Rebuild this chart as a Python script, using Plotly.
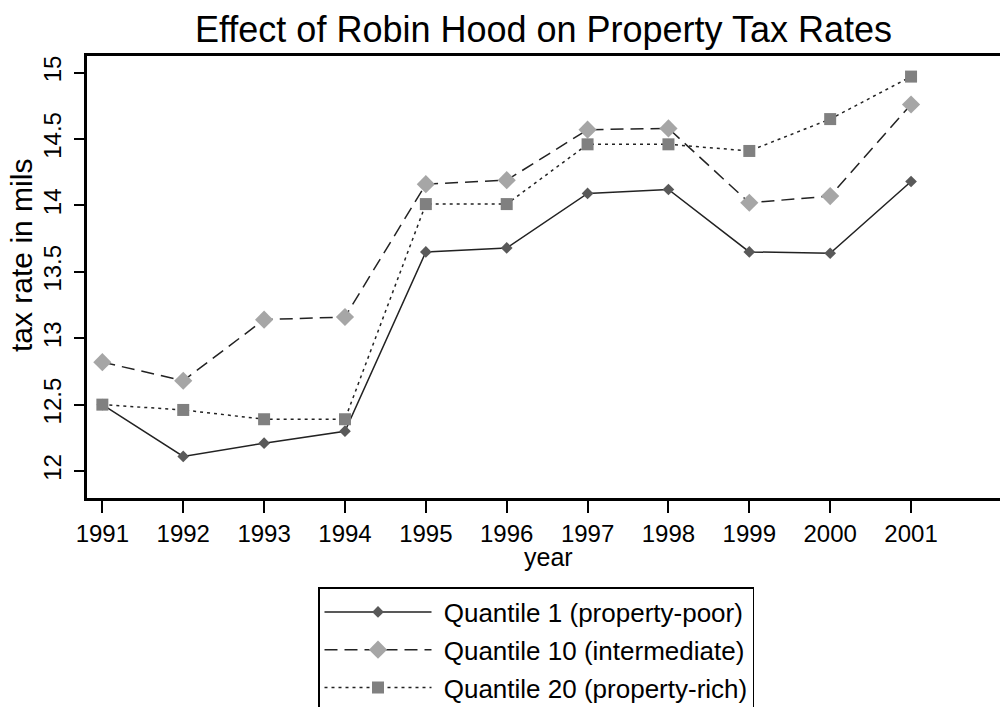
import plotly.graph_objects as go

years = [1991, 1992, 1993, 1994, 1995, 1996, 1997, 1998, 1999, 2000, 2001]
q1_poor = [12.50, 12.11, 12.21, 12.30, 13.65, 13.68, 14.09, 14.12, 13.65, 13.64, 14.18]
q10_mid = [12.82, 12.68, 13.14, 13.16, 14.16, 14.19, 14.57, 14.58, 14.02, 14.07, 14.76]
q20_rich = [12.50, 12.46, 12.39, 12.39, 14.01, 14.01, 14.46, 14.46, 14.41, 14.65, 14.97]

names = ["Quantile 1 (property-poor)", "Quantile 10 (intermediate)", "Quantile 20 (property-rich)"]
y_ticks = [12, 12.5, 13, 13.5, 14, 14.5, 15]

FONT = "Liberation Sans, Arial, sans-serif"
PAD = "\u00a0"

fig = go.Figure()
fig.add_trace(go.Scatter(
    x=years, y=q1_poor, name=PAD + names[0], mode="lines+markers", legendgroup="a",
    line=dict(color="#222222", width=1.5, dash="solid"),
    marker=dict(symbol="diamond", size=9, color="#595959")))
fig.add_trace(go.Scatter(
    x=years, y=q10_mid, name=PAD + names[1], mode="lines+markers", legendgroup="b",
    line=dict(color="#222222", width=1.5, dash="13px,7px"),
    marker=dict(symbol="diamond", size=14, color="#a6a6a6")))
fig.add_trace(go.Scatter(
    x=years, y=q20_rich, name=PAD + names[2], mode="lines+markers", legendgroup="c",
    line=dict(color="#222222", width=1.5, dash="3px,4px"),
    marker=dict(symbol="square", size=12, color="#808080")))

fig.update_layout(
    width=1000, height=707,
    margin=dict(l=87, r=0, t=56, b=209, autoexpand=False),
    paper_bgcolor="white", plot_bgcolor="white",
    font=dict(family=FONT, color="black"),
    title=dict(text="Effect of Robin Hood on Property Tax Rates",
               font=dict(family=FONT, size=36, color="black"),
               x=0.5435, xanchor="center", y=1 - 29 / 707, yanchor="middle"),
    xaxis=dict(range=[1990.81, 2002.1], tickvals=years, ticktext=[str(y) for y in years],
               showgrid=False, zeroline=False, showline=True, linecolor="black", linewidth=2.5,
               mirror=True, ticks="outside", ticklen=12, tickwidth=1.5, tickcolor="black",
               tickfont=dict(family=FONT, size=24)),
    yaxis=dict(range=[11.797, 15.125], tickvals=y_ticks, ticktext=["12", "12.5", "13", "13.5", "14", "14.5", "15"],
               showgrid=False, zeroline=False, showline=True, linecolor="black", linewidth=2.5,
               ticks="outside", ticklen=10, tickwidth=1.5, tickcolor="black", tickangle=-90,
               tickfont=dict(family=FONT, size=24), ticklabelstandoff=4),
    legend=dict(xref="container", yref="container",
                x=318 / 1000, xanchor="left", y=1 - 587 / 707, yanchor="top",
                bordercolor="black", borderwidth=1.5, bgcolor="white",
                font=dict(family=FONT, size=26, color="black"),
                itemwidth=107, tracegroupgap=1, traceorder="grouped"),
    showlegend=True,
    annotations=[
        dict(text="year", xref="paper", yref="paper", x=(548 - 87) / 913, y=-(557 - 498) / 442,
             xanchor="center", yanchor="middle", showarrow=False,
             font=dict(family=FONT, size=25, color="black")),
        dict(text="tax rate in mils", xref="paper", yref="paper", x=-(87 - 22) / 913,
             y=(498 - 256) / 442, xanchor="center", yanchor="middle", textangle=-90,
             showarrow=False, font=dict(family=FONT, size=30, color="black")),
    ],
)

fig.write_html("out.html", config={"displayModeBar": False},
               post_script="document.body.style.margin='0px';document.body.style.padding='0px';")
